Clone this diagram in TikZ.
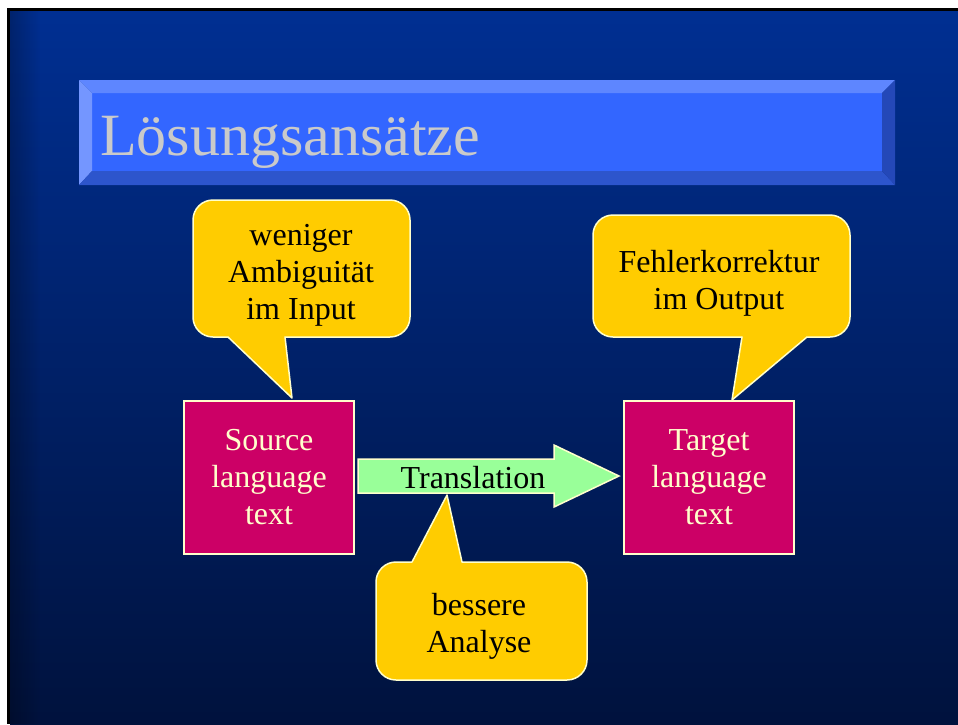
\documentclass[tikz,border=0pt]{standalone}
\usepackage{fontspec}
\setmainfont{Liberation Serif}
\usetikzlibrary{calc,fadings}
\definecolor{slidetop}{HTML}{002F92}
\definecolor{slidebottom}{HTML}{00123D}
\definecolor{barface}{HTML}{3366FF}
\definecolor{barlight}{HTML}{5E86FF}
\definecolor{barlighter}{HTML}{7496FF}
\definecolor{bardark}{HTML}{2D55CC}
\definecolor{bardarker}{HTML}{2448B8}
\definecolor{titlegray}{HTML}{CACACA}
\definecolor{bubble}{HTML}{FFCC00}
\definecolor{paleyellow}{HTML}{FFFFCC}
\definecolor{boxred}{HTML}{CC0066}
\definecolor{arrowgreen}{HTML}{99FF99}
\begin{document}
\begin{tikzpicture}[x=1pt,y=-1pt,
  bodyfont/.style={font=\fontsize{32}{37}\selectfont},
  textbox/.style={draw=paleyellow,line width=2pt,fill=boxred,text=paleyellow,
    minimum width=170pt,minimum height=153pt,align=center,inner sep=0pt,bodyfont},
  bubbleshape/.style={draw=paleyellow,line width=1.5pt,fill=bubble,line join=round},
  bubbletext/.style={align=center,text=black,bodyfont,inner sep=0pt},
  blockarrow/.style={draw=paleyellow,line width=1.5pt,fill=arrowgreen,line join=miter}]
\useasboundingbox (0,0) rectangle (958,724);

% page and slide background
\fill[white] (0,0) rectangle (958,724);
\fill[black] (7,8) rectangle (958,724);
\shade[top color=slidetop,bottom color=slidebottom] (10,11) rectangle (958,724);
\fill[black,fill opacity=0.25,path fading=east] (10,11) rectangle (40,724);

% bevelled title bar
\fill[barface] (92,93) rectangle (882,171);
\fill[barlight] (79,80) -- (895,80) -- (882,93) -- (92,93) -- cycle;
\fill[barlighter] (79,80) -- (92,93) -- (92,171) -- (79,185) -- cycle;
\fill[bardark] (79,185) -- (92,171) -- (882,171) -- (895,185) -- cycle;
\fill[bardarker] (895,80) -- (882,93) -- (882,171) -- (895,185) -- cycle;
\node[anchor=base west,text=titlegray,font=\fontsize{60}{66}\selectfont,inner sep=0pt]
  (title) at (100,155) {Lösungsansätze};

% source and target boxes
\node[textbox] (src) at (269,477.5) {Source\\language\\text};
\node[textbox] (tgt) at (709,477.5) {Target\\language\\text};

% translation arrow between the boxes
\coordinate (a0) at ($(src.east)+(3,-1.5)$);
\coordinate (a1) at ($(tgt.west)+(-4,-1.5)$);
\draw[blockarrow] ($(a0)+(0,17)$) -- ($(a1)+(-65,17)$) -- ($(a1)+(-65,31)$) -- (a1)
  -- ($(a1)+(-65,-31)$) -- ($(a1)+(-65,-17)$) -- ($(a0)+(0,-17)$) -- cycle;
\node[anchor=base,bodyfont,inner sep=0pt] (trans) at (473,488) {Translation};

% speech bubbles
\draw[bubbleshape] (292,398) -- (285,337) [rounded corners=20pt] -- (410,337) -- (410,200)
  -- (193,200) -- (193,337) [sharp corners] -- (228,337) -- cycle;
\node[bubbletext] (amb) at (301,275) {weniger\\Ambiguität\\im Input};

\draw[bubbleshape] (732,400) -- (807,337) [rounded corners=20pt] -- (850,337) -- (850,215)
  -- (593,215) -- (593,337) [sharp corners] -- (742,337) -- cycle;
\node[bubbletext] (fix) at (719,283) {Fehlerkorrektur\\im Output};

\draw[bubbleshape] (447,495) -- (462,562) [rounded corners=20pt] -- (587,562) -- (587,680)
  -- (376,680) -- (376,562) [sharp corners] -- (412,562) -- cycle;
\node[bubbletext] (ana) at (479,626) {bessere\\Analyse};
\end{tikzpicture}
\end{document}
